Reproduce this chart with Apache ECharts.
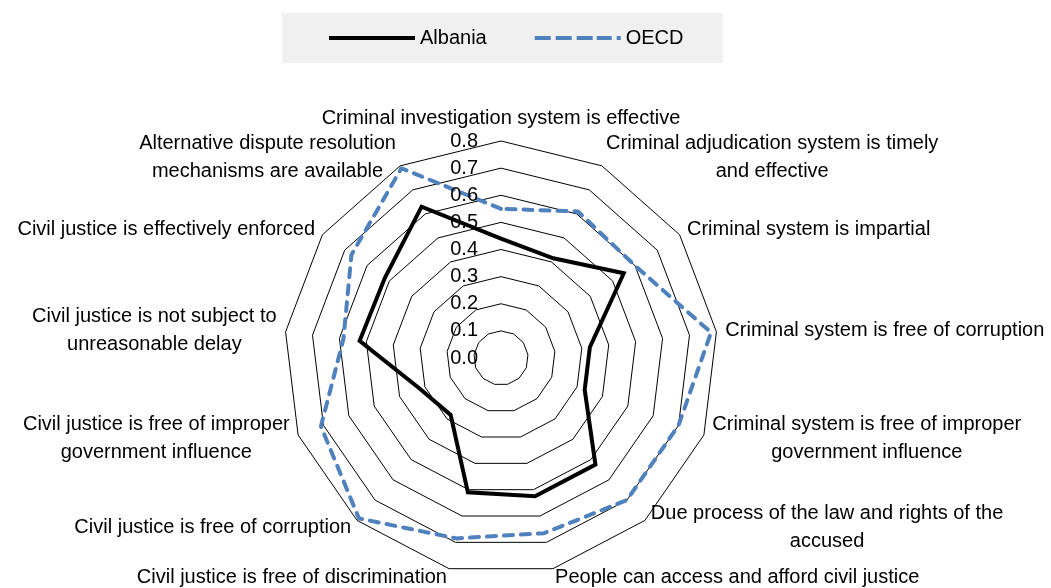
<!DOCTYPE html>
<html>
<head>
<meta charset="utf-8">
<script src="https://cdn.jsdelivr.net/npm/echarts@6/dist/echarts.min.js"></script>
<style>
  html, body { margin: 0; padding: 0; background: #fff; }
  #chart { width: 1051px; height: 588px; }
</style>
</head>
<body>
<div id="chart"></div>
<script>
// categories, clockwise from the top
var categories = [
    'Criminal investigation system is effective',
    'Criminal adjudication system is timely\nand effective',
    'Criminal system is impartial',
    'Criminal system is free of corruption',
    'Criminal system is free of improper\ngovernment influence',
    'Due process of the law and rights of the\naccused',
    'People can access and afford civil justice',
    'Civil justice is free of discrimination',
    'Civil justice is free of corruption',
    'Civil justice is free of improper\ngovernment influence',
    'Civil justice is not subject to\nunreasonable delay',
    'Civil justice is effectively enforced',
    'Alternative dispute resolution\nmechanisms are available'
];
var albania = [0.44, 0.415, 0.55, 0.33, 0.33, 0.525, 0.525, 0.51, 0.28, 0.32, 0.525, 0.52, 0.63];
var oecd = [0.55, 0.61, 0.60, 0.78, 0.70, 0.70, 0.665, 0.685, 0.79, 0.71, 0.585, 0.67, 0.79];
var tickMin = 0, tickMax = 0.8, tickStep = 0.1;

var chart = echarts.init(document.getElementById('chart'));

// echarts places radar indicators counter-clockwise, so walk the list backwards
var order = categories.map(function (c, i) { return (categories.length - i) % categories.length; });
var pick = function (arr) { return order.map(function (i) { return arr[i]; }); };

var indicators = pick(categories).map(function (name) {
    return { name: name, min: tickMin, max: tickMax };
});

var option = {
    animation: false,
    textStyle: { fontFamily: 'Liberation Sans, Arial, sans-serif' },
    legend: {
        left: 282,
        top: 13,
        padding: [15, 39, 15, 47],
        backgroundColor: '#f0f0f0',
        itemWidth: 86,
        itemHeight: 4,
        itemGap: 48,
        selectedMode: false,
        textStyle: { fontSize: 20, color: '#000' },
        data: [
            { name: 'Albania', icon: 'path://M0,0h86v4h-86z' },
            { name: 'OECD', icon: 'path://M0,0h16v4h-16z M21,0h16v4h-16z M42,0h16v4h-16z M62,0h15v4h-15z M82,0h4v4h-4z' }
        ]
    },
    radar: {
        center: [501, 358],
        radius: 217,
        startAngle: 90,
        shape: 'polygon',
        splitNumber: Math.round((tickMax - tickMin) / tickStep),
        indicator: indicators,
        axisName: {
            color: '#000',
            fontSize: 20,
            lineHeight: 28,
            formatter: function (name) {
                return name.split('\n').map(function (s) { return '{c|' + s + '}'; }).join('\n');
            },
            rich: {
                c: { align: 'center', fontSize: 20, lineHeight: 28, color: '#000' }
            }
        },
        nameGap: 9,
        axisLine: { show: false },
        axisTick: { show: false },
        splitArea: { show: false },
        splitLine: { lineStyle: { color: '#000', width: 1 } }
    },
    // polar only carries the value labels up the first spoke
    polar: { center: [501, 358], radius: 217 },
    angleAxis: { show: false, min: 0, max: 360 },
    radiusAxis: {
        min: tickMin,
        max: tickMax,
        interval: tickStep,
        axisLine: { show: false },
        axisTick: { show: false },
        splitLine: { show: false },
        axisLabel: {
            fontSize: 20,
            color: '#000',
            margin: 23,
            formatter: function (v) { return v.toFixed(1); }
        },
        z: 5
    },
    series: [
        {
            type: 'radar',
            name: 'Albania',
            symbol: 'none',
            itemStyle: { color: '#000' },
            lineStyle: { color: '#000', width: 4, join: 'miter' },
            data: [{ name: 'Albania', value: pick(albania) }]
        },
        {
            type: 'radar',
            name: 'OECD',
            symbol: 'none',
            itemStyle: { color: '#4f81bd' },
            lineStyle: { color: '#4f81bd', width: 4, type: [9, 8], cap: 'round' },
            data: [{ name: 'OECD', value: pick(oecd) }]
        }
    ]
};

option && chart.setOption(option);
</script>
</body>
</html>
